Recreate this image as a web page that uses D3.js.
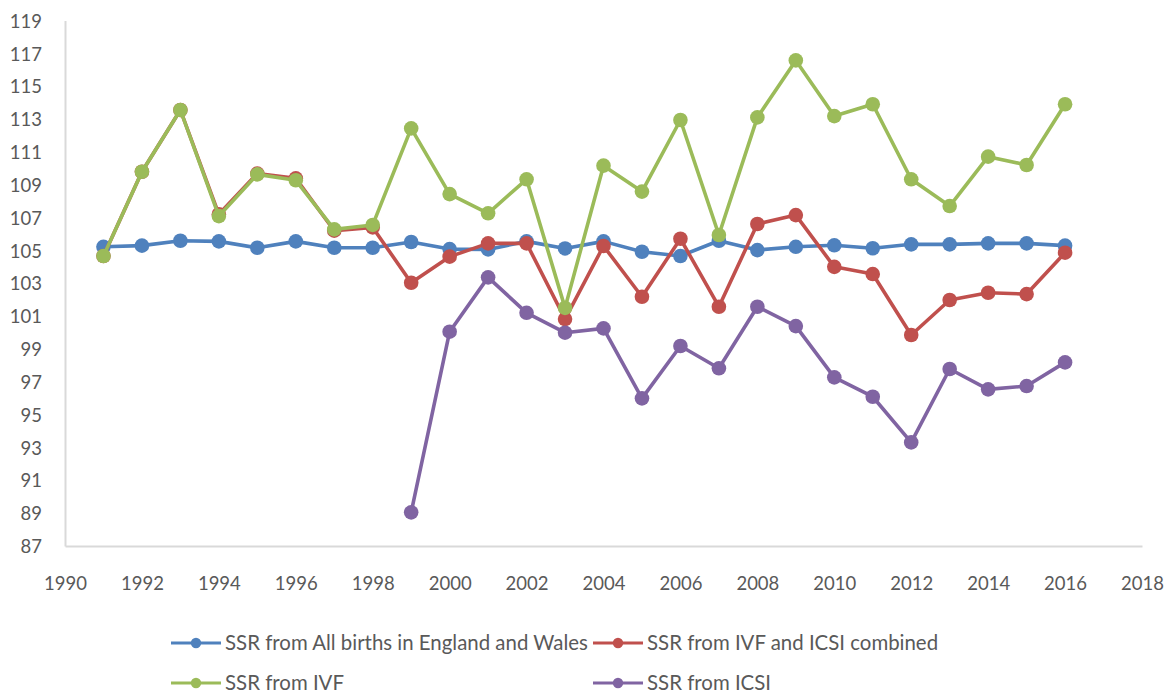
<!DOCTYPE html>
<html>
<head>
<meta charset="utf-8">
<script src="https://cdn.jsdelivr.net/npm/d3@7"></script>
<style>
  html, body { margin: 0; padding: 0; background: #fff; }
  svg { display: block; }
  text { font-family: Lato, "Open Sans", sans-serif; fill: #595959; }
</style>
</head>
<body>
<svg id="chart" width="1170" height="696"></svg>
<script>
const years = [1991,1992,1993,1994,1995,1996,1997,1998,1999,2000,2001,2002,2003,2004,2005,2006,2007,2008,2009,2010,2011,2012,2013,2014,2015,2016];
const allBirths = [105.22,105.29,105.59,105.55,105.16,105.55,105.16,105.16,105.51,105.08,105.06,105.55,105.12,105.55,104.92,104.66,105.59,105.02,105.22,105.31,105.13,105.37,105.37,105.43,105.43,105.29];
const ivfIcsi = [104.66,109.79,113.55,107.20,109.68,109.39,106.20,106.40,103.03,104.62,105.43,105.43,100.82,105.27,102.18,105.71,101.57,106.61,107.15,104.00,103.56,99.85,101.98,102.42,102.34,104.86];
const ivf = [104.66,109.79,113.55,107.09,109.63,109.27,106.28,106.55,112.43,108.43,107.26,109.33,101.50,110.16,108.58,112.94,105.94,113.10,116.57,113.18,113.90,109.33,107.70,110.71,110.20,113.90];
const icsi = [null,null,null,null,null,null,null,null,89.05,100.05,103.36,101.20,99.99,100.25,95.99,99.18,97.82,101.57,100.39,97.27,96.09,93.31,97.78,96.54,96.74,98.18];
const seriesNames = ["SSR from All births in England and Wales","SSR from IVF and ICSI combined","SSR from IVF","SSR from ICSI"];
const seriesColors = ["#4F81BD","#C0504D","#9BBB59","#8064A2"];
const yTicks = [87,89,91,93,95,97,99,101,103,105,107,109,111,113,115,117,119];
const xTicks = [1990,1992,1994,1996,1998,2000,2002,2004,2006,2008,2010,2012,2014,2016,2018];

const seriesValues = [allBirths, ivfIcsi, ivf, icsi];

const svg = d3.select("#chart");
const x = d3.scaleLinear().domain([1990, 2018]).range([65, 1142]);
const y = d3.scaleLinear().domain([87, 119]).range([546, 20.5]);

// Axes
const yAxis = svg.append("g").attr("transform", "translate(65,0)")
  .call(d3.axisLeft(y).tickValues(yTicks).tickSize(0).tickPadding(23).tickFormat(d3.format("d")));
const xAxis = svg.append("g").attr("transform", "translate(0,546)")
  .call(d3.axisBottom(x).tickValues(xTicks).tickSize(0).tickPadding(26).tickFormat(d3.format("d")));
[yAxis, xAxis].forEach(g => {
  g.select(".domain").attr("stroke", "#d9d9d9").attr("stroke-width", 2);
  g.selectAll("text").attr("font-size", 18.5).attr("fill", "#595959")
    .style("font-family", "Lato, 'Open Sans', sans-serif");
});
yAxis.selectAll("text").attr("dy", "0.36em");
xAxis.selectAll("text").attr("dy", "0.36em").attr("y", 37);

// Lines
const line = d3.line()
  .defined(d => d.v !== null)
  .x(d => x(d.year))
  .y(d => y(d.v));

seriesValues.forEach((vals, i) => {
  const data = years.map((yr, j) => ({ year: yr, v: vals[j] }));
  const g = svg.append("g");
  g.append("path")
    .datum(data)
    .attr("fill", "none")
    .attr("stroke", seriesColors[i])
    .attr("stroke-width", 3.6)
    .attr("stroke-linejoin", "round")
    .attr("d", line);
  g.selectAll("circle")
    .data(data.filter(d => d.v !== null))
    .join("circle")
    .attr("cx", d => x(d.year))
    .attr("cy", d => y(d.v))
    .attr("r", 7.3)
    .attr("fill", seriesColors[i]);
});

// Legend
const legendPos = [
  { lx: 171, ty: 643 },
  { lx: 593, ty: 643 },
  { lx: 171, ty: 683 },
  { lx: 593, ty: 683 }
];
const legendTargetWidth = [363, 285];
const lg = svg.append("g");
seriesNames.forEach((name, i) => {
  const p = legendPos[i];
  const item = lg.append("g");
  item.append("line")
    .attr("x1", p.lx).attr("x2", p.lx + 50)
    .attr("y1", p.ty).attr("y2", p.ty)
    .attr("stroke", seriesColors[i]).attr("stroke-width", 3.2);
  item.append("circle")
    .attr("cx", p.lx + 25).attr("cy", p.ty).attr("r", 5.2)
    .attr("fill", seriesColors[i]);
  item.append("text")
    .attr("class", "legend-text")
    .attr("x", p.lx + 54).attr("y", p.ty)
    .attr("dy", "0.36em")
    .attr("font-size", 18.5)
    .text(name);
});
// scale the legend font so the first row matches the reference widths
const t0 = lg.selectAll("text").nodes()[0];
const w0 = t0.getComputedTextLength();
const fs = 18.5 * legendTargetWidth[0] / w0;
lg.selectAll("text").attr("font-size", fs);
</script>
</body>
</html>
